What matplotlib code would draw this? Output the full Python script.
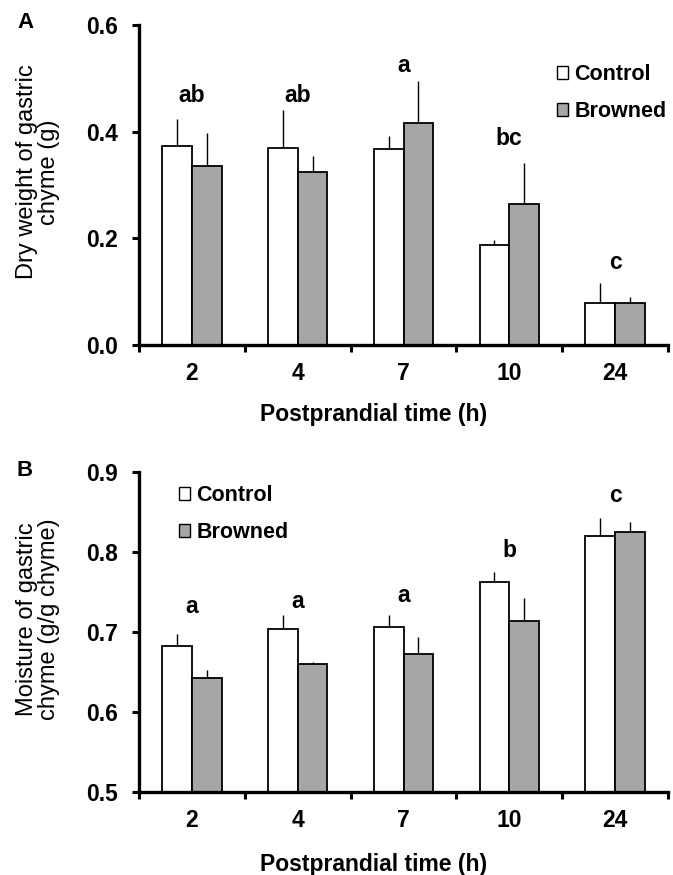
import matplotlib
matplotlib.use("Agg")
import matplotlib.pyplot as plt
from matplotlib.patches import Patch
import numpy as np

plt.rcParams['font.family'] = ['Liberation Sans', 'DejaVu Sans']

times = ['2', '4', '7', '10', '24']

# panel A: dry weight of gastric chyme (g)
dry_control = [0.374, 0.369, 0.367, 0.187, 0.079]
dry_control_err = [0.050, 0.072, 0.025, 0.010, 0.038]
dry_browned = [0.335, 0.325, 0.416, 0.265, 0.079]
dry_browned_err = [0.062, 0.030, 0.079, 0.077, 0.011]
dry_letters = ['ab', 'ab', 'a', 'bc', 'c']
dry_letter_y = [0.468, 0.468, 0.525, 0.387, 0.155]

# panel B: moisture of gastric chyme (g/g chyme)
moist_control = [0.682, 0.704, 0.706, 0.763, 0.820]
moist_control_err = [0.016, 0.017, 0.015, 0.012, 0.023]
moist_browned = [0.643, 0.660, 0.673, 0.714, 0.825]
moist_browned_err = [0.009, 0.002, 0.021, 0.029, 0.012]
moist_letters = ['a', 'a', 'a', 'b', 'c']
moist_letter_y = [0.732, 0.738, 0.745, 0.802, 0.871]

W, H = 673, 875
fig = plt.figure(figsize=(W / 100, H / 100), dpi=100)

GRAY = '#a6a6a6'
bw = 0.28
tick_fs = 16.5


def px(x, y):
    # pixel position (from top-left) -> figure fraction
    return x / W, 1 - y / H


def draw_panel(ax, ctrl, ctrl_err, brown, brown_err, letters, letter_y, ylim, yticks):
    x = np.arange(len(times))
    ax.bar(x - bw / 2, ctrl, bw, color='white', edgecolor='black', linewidth=1.3, zorder=2)
    ax.bar(x + bw / 2, brown, bw, color=GRAY, edgecolor='black', linewidth=1.3, zorder=2)
    ax.errorbar(x - bw / 2, ctrl, yerr=[np.zeros(len(x)), ctrl_err], fmt='none',
                ecolor='black', elinewidth=1.0, capsize=0, zorder=1)
    ax.errorbar(x + bw / 2, brown, yerr=[np.zeros(len(x)), brown_err], fmt='none',
                ecolor='black', elinewidth=1.0, capsize=0, zorder=1)
    for xi, lab, ly in zip(x, letters, letter_y):
        ax.text(xi, ly, lab, ha='center', va='center', fontsize=16.5, fontweight='bold')

    ax.set_xlim(-0.5, len(times) - 0.5)
    ax.set_ylim(*ylim)
    ax.set_yticks(yticks)
    ax.set_yticklabels(['%.1f' % v for v in yticks], fontsize=tick_fs, fontweight='bold')
    ax.set_xticks(np.arange(-0.5, len(times)))
    ax.set_xticklabels([])
    ax.set_xticks(x, minor=True)
    ax.set_xticklabels(times, minor=True, fontsize=tick_fs, fontweight='bold')
    ax.tick_params(axis='x', which='minor', length=0, pad=12)
    ax.tick_params(axis='both', which='major', direction='out', length=5, width=2.2)
    ax.tick_params(axis='y', pad=10)
    for s in ['top', 'right']:
        ax.spines[s].set_visible(False)
    for s in ['left', 'bottom']:
        ax.spines[s].set_linewidth(2.4)


handles = [Patch(facecolor='white', edgecolor='black', linewidth=1.0),
           Patch(facecolor=GRAY, edgecolor='black', linewidth=1.0)]
leg_kw = dict(frameon=False, handlelength=0.5, handleheight=0.55,
              handletextpad=0.3, labelspacing=0.75, borderpad=0, borderaxespad=0,
              prop={'weight': 'bold', 'size': 15.5})

# panel A
axA = fig.add_axes([139 / W, 1 - 345 / H, 529 / W, 320 / H])
draw_panel(axA, dry_control, dry_control_err, dry_browned, dry_browned_err,
           dry_letters, dry_letter_y, (0, 0.6), [0.0, 0.2, 0.4, 0.6])
axA.legend(handles, ['Control', 'Browned'], loc='upper left',
           bbox_to_anchor=px(557, 64), bbox_transform=fig.transFigure, **leg_kw)
fig.text(*px(38, 172), 'Dry weight of gastric\nchyme (g)', rotation=90, ha='center',
         va='center', fontsize=17, linespacing=1.05)
fig.text(*px(374, 415), 'Postprandial time (h)', ha='center', va='center',
         fontsize=16.5, fontweight='bold')
fig.text(*px(26, 23), 'A', ha='center', va='center', fontsize=16, fontweight='bold')

# panel B
axB = fig.add_axes([139 / W, 1 - 792 / H, 529 / W, 320 / H])
draw_panel(axB, moist_control, moist_control_err, moist_browned, moist_browned_err,
           moist_letters, moist_letter_y, (0.5, 0.9), [0.5, 0.6, 0.7, 0.8, 0.9])
axB.legend(handles, ['Control', 'Browned'], loc='upper left',
           bbox_to_anchor=px(179, 485), bbox_transform=fig.transFigure, **leg_kw)
fig.text(*px(38, 619), 'Moisture of gastric\nchyme (g/g chyme)', rotation=90, ha='center',
         va='center', fontsize=17, linespacing=1.05)
fig.text(*px(374, 865), 'Postprandial time (h)', ha='center', va='center',
         fontsize=16.5, fontweight='bold')
fig.text(*px(25, 470), 'B', ha='center', va='center', fontsize=16, fontweight='bold')

fig.savefig('out.png', dpi=100)
